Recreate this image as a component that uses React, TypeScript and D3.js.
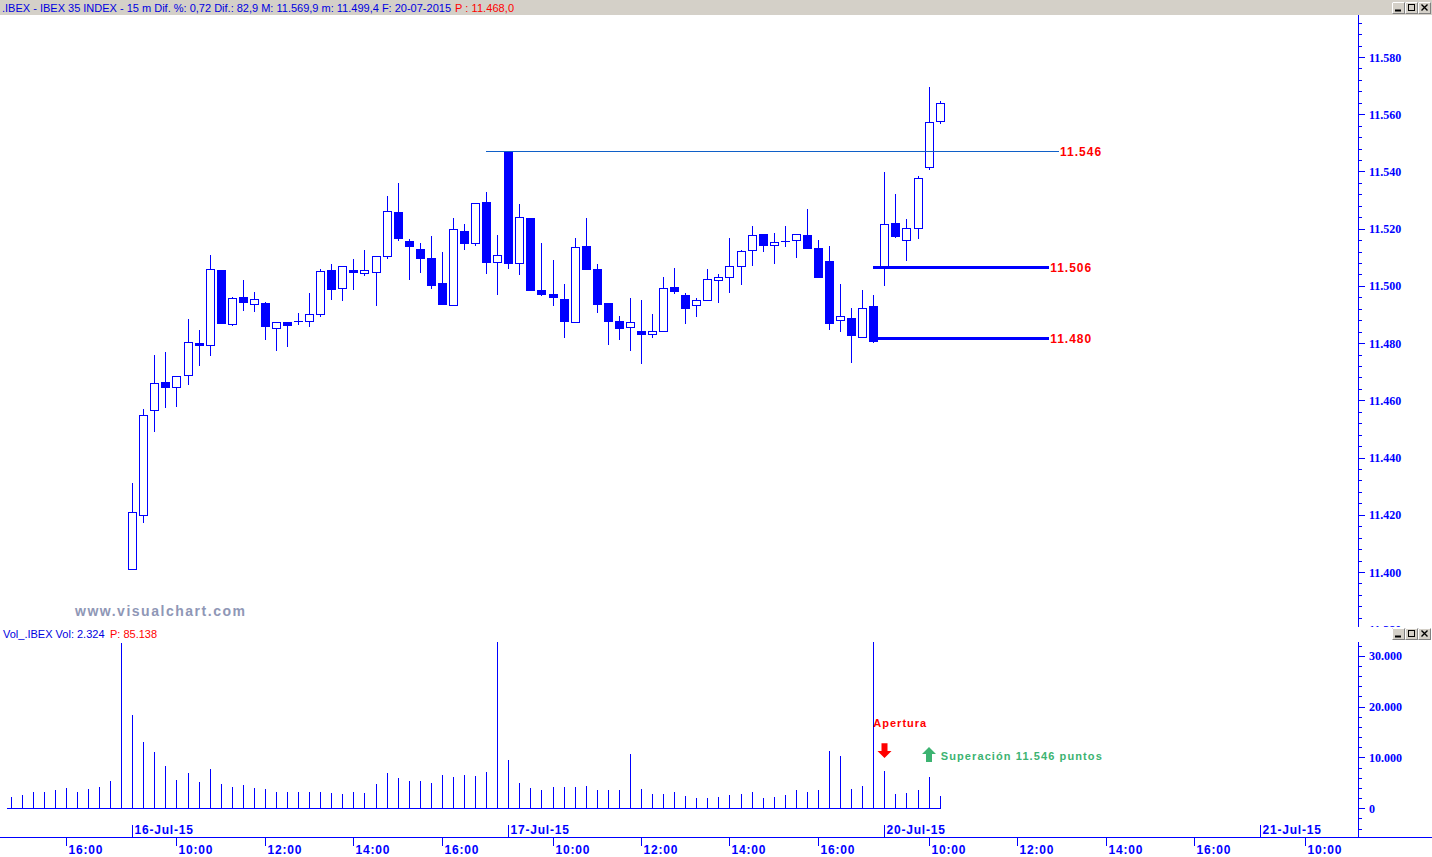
import React from 'react';
import * as d3 from 'd3';

// 15 min bars, index 0 = 16-Jul-15 09:00, 34 bars per session
const opens = [11401, 11420, 11456.5, 11466.4, 11464.6, 11468.8, 11479.9, 11479.2, 11505.5, 11486.6,
  11496, 11493.6, 11494, 11485.2, 11487.3, 11487.6, 11487.6, 11490.1, 11505.5, 11499.2,
  11505.5, 11504.4, 11504.8, 11510.3, 11525.8, 11515.7, 11512.9, 11509.7, 11501.0, 11493.2,
  11519.2, 11514.9, 11529.3, 11508.2, 11546.9, 11507.9, 11523.7, 11498.6, 11497.2, 11495.4,
  11487.3, 11513.9, 11505.9, 11494.0, 11487.7, 11485.5, 11484.2, 11483.1, 11484.1, 11499.6,
  11496.8, 11493.1, 11495.0, 11502.0, 11503.0, 11506.8, 11512.4, 11518.0, 11514.2, 11515.6,
  11515.9, 11517.7, 11513.2, 11508.6, 11488.0, 11488.7, 11482.2, 11493.0, 11506.4, 11521.9,
  11515.9, 11520.1, 11541.4, 11557.6];
const highs = [11431, 11457, 11476, 11477, 11468.4, 11488.4, 11484.6, 11510.8, 11505.5, 11496.2,
  11502.1, 11497.9, 11494.5, 11487.3, 11487.3, 11490.5, 11497.5, 11505.8, 11507.7, 11506.8,
  11509.4, 11512.5, 11510.3, 11531.4, 11536.0, 11516.4, 11515.0, 11517.3, 11511.8, 11523.7,
  11521.6, 11528.9, 11532.8, 11517.8, 11546.9, 11528.6, 11523.7, 11515.0, 11509.0, 11500.7,
  11516.7, 11523.7, 11507.7, 11494.0, 11489.5, 11495.8, 11495.1, 11490.2, 11503.1, 11506.3,
  11497.5, 11495.8, 11505.9, 11504.2, 11516.7, 11512.5, 11520.9, 11518.0, 11518.4, 11520.9,
  11518.0, 11526.9, 11516.0, 11513.9, 11500.7, 11492.3, 11498.6, 11496.8, 11539.8, 11532.1,
  11523.4, 11538.4, 11569.5, 11564.6];
const lows = [11401, 11417, 11449, 11457.4, 11457.8, 11465.5, 11472.1, 11475.6, 11487.1, 11486.1,
  11491.3, 11491, 11481.2, 11477.4, 11478.7, 11486.4, 11485.7, 11489, 11495.1, 11494.8,
  11498.6, 11503.6, 11493.1, 11509.3, 11515.7, 11502.2, 11504.6, 11499.0, 11493.8, 11493.2,
  11512.6, 11514.0, 11504.3, 11496.9, 11506.0, 11503.9, 11498.7, 11496.6, 11493.1, 11481.9,
  11487.3, 11505.7, 11490.6, 11479.4, 11481.2, 11477.4, 11472.8, 11481.9, 11484.1, 11497.3,
  11486.8, 11489.2, 11495.0, 11494.1, 11497.6, 11500.4, 11507.1, 11512.0, 11507.8, 11513.7,
  11509.9, 11513.3, 11503.2, 11484.7, 11484.0, 11473.2, 11482.2, 11480.1, 11500.1, 11516.8,
  11508.8, 11516.5, 11540.6, 11556.6];
const closes = [11421, 11455, 11466, 11464.8, 11468.4, 11480.3, 11479.1, 11505.8, 11487.1, 11495.7,
  11494.3, 11495.3, 11486.1, 11487.3, 11486.2, 11487.7, 11490.1, 11505.1, 11498.7, 11506.8,
  11504.8, 11505.5, 11510.3, 11526.2, 11516.7, 11514.0, 11509.9, 11500.1, 11493.8, 11519.8,
  11515.1, 11528.9, 11508.5, 11510.7, 11508.1, 11524.0, 11498.7, 11497.3, 11496.2, 11487.8,
  11513.5, 11505.7, 11493.8, 11487.8, 11485.4, 11487.3, 11483.3, 11484.1, 11499.2, 11498.3,
  11492.4, 11495.0, 11502.3, 11503.0, 11506.8, 11512.1, 11517.7, 11514.0, 11515.2, 11515.7,
  11518.0, 11513.3, 11503.2, 11486.8, 11489.4, 11482.6, 11492.2, 11480.8, 11521.5, 11517.5,
  11520.1, 11537.6, 11557.3, 11563.9];

// volume starts 11 bars earlier (tail of 15-Jul session)
const volStart = -11;
const volumes = [2200, 2600, 3200, 3200, 3500, 3900, 3300, 3700, 4100, 5400, 32500,
  18300, 13000, 11000, 8300, 5500, 6900, 5200, 7700, 4800, 4100,
  4500, 3900, 3700, 3200, 3200, 3200, 3200, 3200, 3000, 2800,
  3200, 3000, 4800, 6900, 5900, 5400, 5400, 5000, 6500, 6100,
  6500, 6300, 7100, 32700, 9500, 5000, 3900, 3500, 4100, 4100,
  4100, 4300, 3500, 3500, 3500, 10700, 3700, 2800, 2800, 3200,
  2400, 2000, 2000, 2200, 2600, 2800, 3200, 2000, 2200, 2600,
  3500, 3300, 3500, 11300, 10300, 3700, 4300, 32700, 7300, 2800,
  3000, 3600, 6200, 2400];

const dateTickBars = [0, 34, 68, 102];
const dateTickLabels = ['16-Jul-15', '17-Jul-15', '20-Jul-15', '21-Jul-15'];
const timeTickBars = [-6, 4, 12, 20, 28, 38, 46, 54, 62, 72, 80, 88, 96, 106];
const timeTickLabels = ['16:00', '10:00', '12:00', '14:00', '16:00', '10:00', '12:00', '14:00', '16:00',
  '10:00', '12:00', '14:00', '16:00', '10:00'];

const priceTicks = [11380, 11400, 11420, 11440, 11460, 11480, 11500, 11520, 11540, 11560, 11580];
const volTicks = [0, 10000, 20000, 30000];

const levelValues = [11547, 11506.3, 11481.7];
const levelLabels = ['11.546', '11.506', '11.480'];
const levelFrom = [32, 67, 67.3];
const levelTo = [83.8, 82.9, 82.9];

const W = 1432;
const H = 857;
const axisX = 1358;
const priceTop = 15;
const priceBottom = 627;
const volTop = 642;
const baseY = 837;

const fmt = (v: number) => d3.format(',.0f')(v).replace(/,/g, '.');

const WinButtons: React.FC<{ x: number; y: number }> = ({ x, y }) => (
  <g>
    {[0, 1, 2].map((k) => (
      <g key={k} transform={`translate(${x + k * 13},${y})`}>
        <rect x={0.5} y={0.5} width={12} height={11} fill="#d4d0c8" stroke="#808080" />
        <path d="M0.5,11.5 V0.5 H12.5" fill="none" stroke="#fff" />
        {k === 0 && <rect x={3} y={7.5} width={6} height={2} fill="#000" />}
        {k === 1 && <rect x={3.5} y={2.5} width={6} height={6} fill="none" stroke="#000" />}
        {k === 2 && <path d="M3.5,2.5 L9.5,8.5 M9.5,2.5 L3.5,8.5" stroke="#000" strokeWidth={1.4} />}
      </g>
    ))}
  </g>
);

export default function App() {
  if (typeof document !== 'undefined') document.body.style.margin = '0';

  const x = d3.scaleLinear().domain([0, 102]).range([132.2, 1260.4]);
  const y = d3.scaleLinear().domain([11400, 11580]).range([572, 57]);
  const yv = d3.scaleLinear().domain([0, 30000]).range([808.3, 655.7]);

  const px = (i: number) => Math.round(x(i)) + 0.5;
  const blue = '#0000ff';
  const red = '#ff0000';
  const green = '#3cb371';

  const priceMinor = d3.range(11376, 11600, 4);
  const volMinor = d3.range(-4000, 34000, 2000);

  // annotation arrows (down at the open bar, up at the breakout bar)
  const dx = px(68);
  const dTop = yv(12800);
  const dTip = yv(9900);
  const ux = px(72) - 0.5;
  const uTip = yv(12050);
  const uBot = yv(9100);

  return (
    <svg width={W} height={H} style={{ display: 'block', background: '#fff' }}
      fontFamily="'Liberation Sans', Arial, sans-serif">
      <defs>
        <clipPath id="pclip"><rect x={0} y={priceTop} width={axisX} height={priceBottom - priceTop} /></clipPath>
        <clipPath id="paxis"><rect x={axisX} y={priceTop} width={W - axisX} height={priceBottom - priceTop} /></clipPath>
        <clipPath id="vclip"><rect x={0} y={volTop} width={axisX} height={baseY - volTop} /></clipPath>
      </defs>

      {/* header bar */}
      <rect x={0} y={0} width={W} height={priceTop} fill="#d4d0c8" />
      <text x={2} y={11.5} fontSize={11} fill="#0000e0" textLength={449} lengthAdjust="spacing">
        .IBEX - IBEX 35 INDEX -  15 m  Dif. %: 0,72  Dif.: 82,9  M: 11.569,9  m: 11.499,4  F: 20-07-2015
      </text>
      <text x={455} y={11.5} fontSize={11} fill={red} textLength={59} lengthAdjust="spacing">P : 11.468,0</text>
      <WinButtons x={1392} y={2} />

      {/* price axis */}
      <line x1={axisX + 0.5} x2={axisX + 0.5} y1={priceTop} y2={priceBottom} stroke={blue} />
      <g clipPath="url(#paxis)">
        {priceMinor.map((v) => (
          <line key={v} x1={axisX} x2={axisX + (v % 20 === 0 ? 7 : 4)} y1={Math.round(y(v)) + 0.5} y2={Math.round(y(v)) + 0.5} stroke={blue} />
        ))}
        {priceTicks.map((v) => (
          <text key={v} x={1369} y={y(v) + 4.5} fontSize={12} fontWeight="bold" fill={blue}
            fontFamily="'Liberation Serif', 'Times New Roman', serif">{fmt(v)}</text>
        ))}
      </g>

      {/* watermark */}
      <text x={75} y={616} fontSize={14} fontWeight="bold" fill="#8f97b6" textLength={170} lengthAdjust="spacing">www.visualchart.com</text>

      {/* candles */}
      <g clipPath="url(#pclip)" shapeRendering="crispEdges">
        {opens.map((o, i) => {
          const c = closes[i];
          const cx = px(i);
          const yh = y(highs[i]);
          const yl = y(lows[i]);
          const yo = y(o);
          const yc = y(c);
          const top = Math.min(yo, yc);
          const bot = Math.max(yo, yc);
          const up = c >= o;
          return (
            <g key={i}>
              <line x1={cx} x2={cx} y1={yh} y2={yl} stroke={blue} />
              {bot - top < 1.5 ? (
                <line x1={cx - 4.5} x2={cx + 4.5} y1={Math.round(top) + 0.5} y2={Math.round(top) + 0.5} stroke={blue} />
              ) : up ? (
                <rect x={cx - 4} y={Math.round(top) + 0.5} width={8} height={Math.round(bot - top)} fill="#fff" stroke={blue} />
              ) : (
                <rect x={cx - 4.5} y={Math.round(top)} width={9} height={Math.round(bot - top) + 1} fill={blue} />
              )}
            </g>
          );
        })}
        {levelValues.map((v, k) => (
          <line key={k} x1={x(levelFrom[k])} x2={x(levelTo[k])} y1={y(v)} y2={y(v)}
            stroke={k === 0 ? '#1060c8' : blue} strokeWidth={k === 0 ? 1 : 3} />
        ))}
      </g>
      {levelValues.map((v, k) => (
        <text key={k} x={x(levelTo[k]) + 1} y={y(v) + 4.5} fontSize={12} fontWeight="bold" fill={red} letterSpacing={1}>
          {levelLabels[k]}
        </text>
      ))}

      {/* volume panel */}
      <text x={3} y={638} fontSize={11} fill="#0000e0">Vol_.IBEX Vol: 2.324</text>
      <text x={110} y={638} fontSize={11} fill={red}>P: 85.138</text>
      <WinButtons x={1392} y={628} />
      <line x1={axisX + 0.5} x2={axisX + 0.5} y1={volTop} y2={baseY} stroke={blue} />
      {volMinor.map((v) => (
        <line key={v} x1={axisX} x2={axisX + (v % 10000 === 0 ? 7 : 4)} y1={Math.round(yv(v)) + 0.5} y2={Math.round(yv(v)) + 0.5} stroke={blue} />
      ))}
      {volTicks.map((v) => (
        <text key={v} x={1369} y={yv(v) + 4.5} fontSize={12} fontWeight="bold" fill={blue}
          fontFamily="'Liberation Serif', 'Times New Roman', serif">{v === 0 ? '0' : fmt(v)}</text>
      ))}
      <g clipPath="url(#vclip)" shapeRendering="crispEdges">
        <line x1={x(volStart) - 4} x2={x(73) + 1} y1={Math.round(yv(0)) + 0.5} y2={Math.round(yv(0)) + 0.5} stroke={blue} />
        {volumes.map((v, k) => (
          <line key={k} x1={px(volStart + k)} x2={px(volStart + k)} y1={yv(0)} y2={yv(v)} stroke={blue} />
        ))}
      </g>

      {/* annotations */}
      <text x={x(68) - 11} y={yv(15900)} fontSize={11} fontWeight="bold" fill={red} letterSpacing={1}>Apertura</text>
      <path d={`M${dx - 3},${dTop} H${dx + 3} V${dTip - 7} H${dx + 7} L${dx},${dTip} L${dx - 7},${dTip - 7} H${dx - 3} Z`} fill={red} />
      <path d={`M${ux},${uTip} L${ux + 7},${uTip + 7} H${ux + 3} V${uBot} H${ux - 3} V${uTip + 7} H${ux - 7} Z`} fill={green} />
      <text x={x(73.1)} y={yv(9500)} fontSize={11} fontWeight="bold" fill={green} letterSpacing={1.1}>
        Superación 11.546 puntos
      </text>

      {/* time axis */}
      <line x1={0} x2={W} y1={baseY + 0.5} y2={baseY + 0.5} stroke={blue} />
      {dateTickBars.map((b, k) => (
        <g key={k}>
          <line x1={px(b)} x2={px(b)} y1={baseY - 12} y2={baseY} stroke={blue} />
          <text x={px(b) + 2} y={baseY - 3} fontSize={12} fontWeight="bold" fill={blue} letterSpacing={0.8}>{dateTickLabels[k]}</text>
        </g>
      ))}
      {timeTickBars.map((b, k) => (
        <g key={k}>
          <line x1={px(b)} x2={px(b)} y1={baseY} y2={baseY + 9} stroke={blue} />
          <text x={px(b) + 2} y={baseY + 17} fontSize={12} fontWeight="bold" fill={blue} letterSpacing={0.8}>{timeTickLabels[k]}</text>
        </g>
      ))}
    </svg>
  );
}
